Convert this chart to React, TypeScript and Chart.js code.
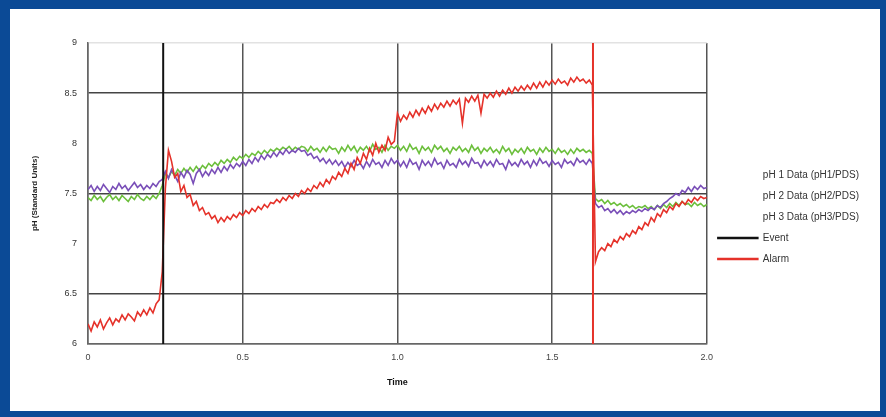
import React, { useEffect, useRef } from "react";
import { Chart, registerables } from "chart.js";

Chart.register(...registerables);

// ---- data ----
const SAMPLE_STEP = 0.01; // time between samples
const X_TICKS = [0, 0.5, 1.0, 1.5, 2.0];
const Y_MIN = 6;
const Y_MAX = 9;
const EVENT_TIMES = [0.243, 1.632];

const SERIES_LABELS = [
  "pH 1 Data (pH1/PDS)",
  "pH 2 Data (pH2/PDS)",
  "pH 3 Data (pH3/PDS)",
  "Event",
  "Alarm",
];

const phGreen = [
  7.46, 7.43, 7.48, 7.44, 7.47, 7.42, 7.46, 7.49, 7.44, 7.47,
  7.43, 7.48, 7.45, 7.42, 7.47, 7.44, 7.49, 7.45, 7.43, 7.47,
  7.44, 7.48, 7.45, 7.50, 7.58, 7.70, 7.66, 7.72, 7.68, 7.74,
  7.70, 7.75, 7.71, 7.76, 7.72, 7.77, 7.73, 7.78, 7.75, 7.80,
  7.77, 7.81, 7.78, 7.83, 7.80, 7.84, 7.81, 7.86, 7.83, 7.87,
  7.85, 7.89, 7.86, 7.90, 7.88, 7.92, 7.89, 7.93, 7.90, 7.94,
  7.92, 7.95, 7.93, 7.96, 7.94, 7.97, 7.93, 7.96, 7.94, 7.97,
  7.96, 7.92, 7.97, 7.93, 7.95, 7.91, 7.96, 7.92, 7.97, 7.94,
  7.95, 7.90, 7.96, 7.92, 7.98, 7.93, 7.97, 7.91, 7.96, 7.93,
  7.97, 7.92, 7.99, 7.94, 7.96, 7.91, 7.98, 7.93, 7.97, 7.95,
  7.98, 7.93, 7.97, 7.92, 7.99, 7.94, 7.96, 7.90, 7.97, 7.93,
  7.96, 7.91, 7.98, 7.94, 7.97, 7.92, 7.95, 7.90, 7.96, 7.93,
  7.97, 7.92, 7.95, 7.91, 7.98, 7.93, 7.96, 7.90, 7.95, 7.92,
  7.96, 7.91, 7.94, 7.90, 7.97, 7.92, 7.95, 7.89, 7.94, 7.91,
  7.95, 7.90, 7.96, 7.92, 7.94, 7.89, 7.95, 7.91, 7.96, 7.92,
  7.94, 7.90, 7.95, 7.91, 7.93, 7.89, 7.94, 7.90, 7.95, 7.92,
  7.94, 7.91, 7.93, 7.90, 7.45, 7.42, 7.44, 7.40, 7.43, 7.39,
  7.41, 7.38, 7.40, 7.37, 7.39, 7.36, 7.38, 7.35, 7.37, 7.36,
  7.38, 7.35, 7.37, 7.34, 7.38, 7.35, 7.39, 7.36, 7.40, 7.37,
  7.41, 7.38, 7.42, 7.39, 7.40, 7.37, 7.41, 7.38, 7.40, 7.37,
  7.39,
];

const phPurple = [
  7.54, 7.58, 7.52, 7.57, 7.53, 7.59, 7.55, 7.51, 7.57, 7.54,
  7.60, 7.55, 7.58, 7.53, 7.57, 7.61, 7.56, 7.59, 7.54, 7.58,
  7.55, 7.60, 7.57, 7.62, 7.64, 7.72, 7.65, 7.74, 7.68, 7.62,
  7.71, 7.66, 7.73, 7.69, 7.60, 7.70, 7.74, 7.67, 7.72, 7.68,
  7.74, 7.70, 7.76, 7.71, 7.77, 7.73, 7.79, 7.75, 7.80, 7.77,
  7.82, 7.78, 7.84, 7.80, 7.86, 7.82, 7.88, 7.84, 7.89, 7.86,
  7.91, 7.87, 7.92, 7.89, 7.94, 7.90, 7.93, 7.91, 7.95, 7.92,
  7.93, 7.88, 7.90, 7.85, 7.87, 7.82, 7.85, 7.80, 7.84, 7.79,
  7.83, 7.78, 7.82, 7.76, 7.81, 7.77, 7.83, 7.78, 7.80, 7.75,
  7.82, 7.77, 7.84, 7.79, 7.81, 7.76, 7.83, 7.78, 7.85, 7.80,
  7.83, 7.77, 7.82, 7.76, 7.84, 7.79, 7.81, 7.74, 7.83, 7.78,
  7.82, 7.77, 7.85, 7.79, 7.81, 7.75, 7.83, 7.78, 7.80, 7.76,
  7.84, 7.79, 7.82, 7.77, 7.85, 7.80, 7.81, 7.76, 7.83, 7.78,
  7.82, 7.77, 7.84, 7.79, 7.80, 7.74, 7.83, 7.78, 7.81, 7.77,
  7.84, 7.79, 7.82, 7.76, 7.83, 7.78, 7.85, 7.80, 7.82, 7.77,
  7.83, 7.79, 7.81, 7.76, 7.84, 7.80, 7.82, 7.78, 7.85, 7.81,
  7.83, 7.79, 7.84, 7.80, 7.40, 7.36, 7.38, 7.33, 7.35, 7.31,
  7.34, 7.30, 7.33, 7.29, 7.32, 7.30, 7.33, 7.31, 7.34, 7.32,
  7.35, 7.33, 7.36, 7.34, 7.38, 7.36, 7.40, 7.42, 7.45, 7.47,
  7.50, 7.48, 7.53, 7.51, 7.56, 7.52, 7.57, 7.54, 7.58, 7.55,
  7.56,
];

const phRed = [
  6.20, 6.13, 6.22, 6.17, 6.24, 6.15, 6.21, 6.26, 6.19, 6.25,
  6.22, 6.29, 6.24, 6.30, 6.27, 6.23, 6.32, 6.28, 6.34, 6.29,
  6.36, 6.31, 6.40, 6.44, 6.72, 7.55, 7.93, 7.82, 7.66, 7.70,
  7.52, 7.58, 7.46, 7.49, 7.38, 7.42, 7.33, 7.36, 7.29, 7.31,
  7.25, 7.28, 7.21, 7.26, 7.22, 7.27, 7.24, 7.29, 7.26, 7.31,
  7.28, 7.33, 7.30, 7.35, 7.32, 7.37, 7.34, 7.39, 7.36, 7.41,
  7.40, 7.44, 7.41, 7.46, 7.43, 7.48, 7.45, 7.50, 7.47, 7.53,
  7.50, 7.55, 7.52, 7.58, 7.55, 7.61, 7.57, 7.64, 7.60, 7.67,
  7.64, 7.71, 7.67, 7.75, 7.70, 7.80, 7.74, 7.86, 7.80, 7.90,
  7.84, 7.95, 7.88, 8.00, 7.91, 7.98, 7.93, 8.06, 7.99, 8.02,
  8.30, 8.22, 8.28, 8.24, 8.31, 8.26, 8.33, 8.28, 8.35, 8.30,
  8.37, 8.32, 8.39, 8.34, 8.40, 8.36, 8.42, 8.37, 8.43, 8.39,
  8.44, 8.20, 8.45, 8.41, 8.47, 8.42, 8.48, 8.30, 8.49, 8.45,
  8.50, 8.46, 8.52, 8.47, 8.53, 8.49, 8.55, 8.50, 8.56, 8.52,
  8.57, 8.53, 8.58, 8.54, 8.60, 8.55, 8.61, 8.56, 8.62, 8.58,
  8.63, 8.59, 8.64, 8.60, 8.62, 8.58, 8.65, 8.61, 8.66, 8.62,
  8.64, 8.60, 8.63, 8.58, 6.82, 6.92, 6.96, 6.93, 7.00, 6.97,
  7.04, 7.01, 7.07, 7.04, 7.10, 7.07, 7.13, 7.10, 7.17, 7.14,
  7.21, 7.18, 7.26, 7.22, 7.30, 7.27, 7.34, 7.31, 7.37, 7.34,
  7.40, 7.37, 7.42, 7.39, 7.44, 7.41, 7.46, 7.43, 7.47, 7.45,
  7.46,
];

const COLORS = {
  green: "#6cbf3c",
  purple: "#7a4fb8",
  red: "#e5322a",
  black: "#111111",
};

const FONT = "'Liberation Sans', Arial, sans-serif";

export default function App() {
  const ref = useRef<HTMLCanvasElement>(null);

  useEffect(() => {
    const canvas = ref.current;
    if (!canvas) return;
    const pts = (arr: number[]) =>
      arr.map((y, i) => ({ x: Math.round(i * SAMPLE_STEP * 100) / 100, y }));
    const eventLine = (t: number) => [
      { x: t, y: Y_MIN },
      { x: t, y: Y_MAX },
    ];

    const chart = new Chart(canvas, {
      type: "line",
      data: {
        datasets: [
          {
            label: SERIES_LABELS[0],
            data: pts(phGreen),
            borderColor: COLORS.green,
            backgroundColor: COLORS.green,
            borderWidth: 1.6,
            order: 3,
          },
          {
            label: SERIES_LABELS[1],
            data: pts(phPurple),
            borderColor: COLORS.purple,
            backgroundColor: COLORS.purple,
            borderWidth: 1.6,
            order: 2,
          },
          {
            label: SERIES_LABELS[2],
            data: pts(phRed),
            borderColor: COLORS.red,
            backgroundColor: COLORS.red,
            borderWidth: 1.6,
            order: 1,
          },
          {
            label: SERIES_LABELS[3],
            data: eventLine(EVENT_TIMES[0]),
            borderColor: COLORS.black,
            backgroundColor: COLORS.black,
            borderWidth: 2,
            order: 0,
          },
          {
            label: SERIES_LABELS[4],
            data: eventLine(EVENT_TIMES[1]),
            borderColor: COLORS.red,
            backgroundColor: COLORS.red,
            borderWidth: 2,
            order: 0,
          },
        ],
      },
      options: {
        animation: false,
        responsive: false,
        devicePixelRatio: 1,
        layout: { padding: { top: 34, left: 0, right: 11, bottom: 20 } },
        elements: { point: { radius: 0 }, line: { tension: 0 } },
        plugins: {
          tooltip: { enabled: false },
          legend: {
            position: "right",
            align: "center",
            labels: {
              boxWidth: 40,
              boxHeight: 1,
              padding: 11,
              color: "#333",
              font: { size: 10, family: FONT },
              generateLabels: (c: any) => {
                const items = (Chart.defaults.plugins.legend.labels as any).generateLabels(c);
                items.sort((a: any, b: any) => a.datasetIndex - b.datasetIndex);
                return items.map((it: any) =>
                  it.datasetIndex < 3
                    ? { ...it, fillStyle: "rgba(0,0,0,0)", strokeStyle: "rgba(0,0,0,0)", lineWidth: 1 }
                    : { ...it, fillStyle: it.strokeStyle, lineWidth: 1.5 }
                );
              },
            },
          },
        },
        scales: {
          x: {
            type: "linear",
            min: X_TICKS[0],
            max: X_TICKS[X_TICKS.length - 1],
            afterFit: (s: any) => {
              s.height = 47;
            },
            afterBuildTicks: (s: any) => {
              s.ticks = X_TICKS.map((v) => ({ value: v }));
            },
            ticks: {
              padding: 8,
              color: "#444",
              font: { size: 9, family: FONT },
              callback: (v: any) => (Number(v) === 0 ? "0" : Number(v).toFixed(1)),
            },
            grid: { color: "#555", lineWidth: 1.5, drawTicks: false },
            border: { display: true, color: "#666", width: 1.5 },
            title: {
              display: true,
              text: "Time",
              color: "#111",
              font: { size: 9, weight: "bold", family: FONT },
              padding: { top: 0, bottom: 3 },
            },
          },
          y: {
            type: "linear",
            min: Y_MIN,
            max: Y_MAX,
            afterFit: (s: any) => {
              s.width = 78;
            },
            ticks: {
              stepSize: 0.5,
              padding: 11,
              color: "#333",
              font: { size: 9, family: FONT },
              callback: (v: any) => String(Number(v)),
            },
            grid: {
              drawTicks: false,
              lineWidth: 1.5,
              color: (ctx: any) => {
                const v = ctx.tick ? ctx.tick.value : null;
                if (v === 9) return "#e2e2e2";
                if (v === 8.5 || v === 7.5 || v === 6.5) return "#444";
                if (v === 6) return "#777";
                return "rgba(0,0,0,0)";
              },
            },
            border: { display: true, color: "#666", width: 1.5 },
            title: {
              display: true,
              text: "pH (Standard Units)",
              color: "#222",
              font: { size: 8, weight: "bold", family: FONT },
              padding: { top: 20, bottom: 0 },
            },
          },
        },
      },
    } as any);

    return () => chart.destroy();
  }, []);

  return (
    <div
      style={{
        position: "fixed",
        left: 0,
        top: 0,
        width: 886,
        height: 417,
        background: "#0b4a96",
      }}
    >
      <div
        style={{
          position: "absolute",
          left: 10,
          top: 9,
          width: 870,
          height: 402,
          background: "#ffffff",
        }}
      >
        <canvas
          ref={ref}
          width={870}
          height={402}
          style={{ display: "block", width: 870, height: 402 }}
        />
      </div>
    </div>
  );
}
